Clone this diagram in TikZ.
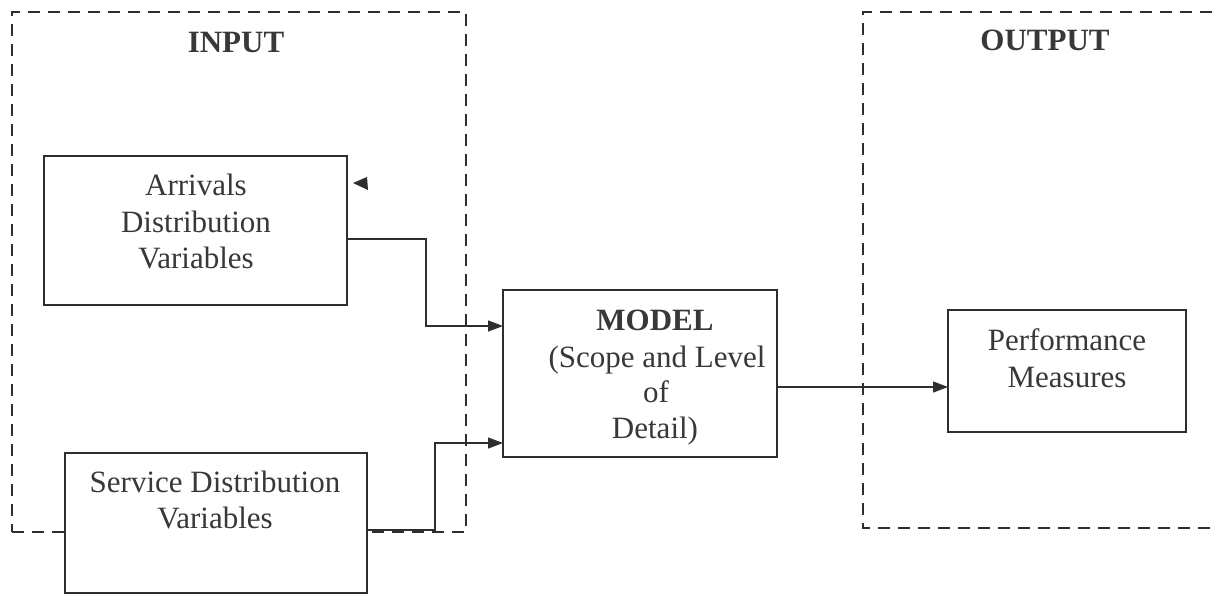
\documentclass[tikz,border=0pt]{standalone}
\usepackage{fontspec}
\setmainfont{Liberation Serif}
\usetikzlibrary{arrows.meta}
\definecolor{inkc}{HTML}{2E2E2E}
\definecolor{txtc}{HTML}{383838}
\begin{document}
\begin{tikzpicture}[x=1pt,y=-1pt,
  box/.style={draw=inkc, fill=white, line width=1.3pt, rectangle, inner sep=0pt, outer sep=0pt},
  grp/.style={draw=inkc, line width=1.3pt, dash pattern=on 12pt off 8pt},
  txt/.style={font=\fontsize{31}{36}\selectfont, text=txtc, anchor=base, inner sep=0pt},
  ttl/.style={font=\fontsize{31}{36}\selectfont\bfseries, text=txtc, anchor=base, inner sep=0pt},
  arr/.style={draw=inkc, line width=1.2pt, -{Triangle[length=15pt,width=11pt]}}]
\useasboundingbox[fill=white] (0,0) rectangle (1212,595);

% groups
\node[grp, minimum width=454pt, minimum height=520pt, inner sep=0pt] (inbox) at (239,272) {};
\coordinate (o1) at (1212,12);
\coordinate (o2) at (863,12);
\coordinate (o3) at (863,528);
\coordinate (o4) at (1212,528);
\draw[grp] (o1) -- (o2) -- (o3) -- (o4);

\node[ttl] (intitle) at (236,52) {INPUT};
\node[ttl] (outtitle) at (1045,50) {OUTPUT};

% connectors (under boxes)
\coordinate (b1) at (426,239);
\coordinate (b2) at (426,326);
\coordinate (c1) at (435,530);
\coordinate (c2) at (435,443);
\coordinate (d1) at (800,387);

% boxes
\node[box, minimum width=303pt, minimum height=149pt] (arrv) at (195.5,230.5) {};
\node[box, minimum width=302pt, minimum height=140pt] (serv) at (216,523) {};
\node[box, minimum width=274pt, minimum height=167pt] (model) at (640,373.5) {};
\node[box, minimum width=238pt, minimum height=122pt] (perf) at (1067,371) {};

% texts
\node[txt] (arrv1) at (196,195) {Arrivals};
\node[txt] (arrv2) at (196,232) {Distribution};
\node[txt] (arrv3) at (196,268) {Variables};
\node[txt] (serv1) at (215,492) {Service Distribution};
\node[txt] (serv2) at (215,528) {Variables};
\node[ttl] (model1) at (655,330) {MODEL};
\node[txt] (model2) at (657,367) {(Scope and Level};
\node[txt] (model3) at (656,402) {of};
\node[txt] (model4) at (655,438) {Detail)};
\node[txt] (perf1) at (1067,350) {Performance};
\node[txt] (perf2) at (1067,387) {Measures};

% small stray triangle
\fill[inkc] (353,183) -- (367,177) -- (368,190) -- cycle;

\draw[arr] (arrv.east |- b1) -- (b1) -- (b2) -- (model.west |- b2);
\draw[arr] (serv.east |- c1) -- (c1) -- (c2) -- (model.west |- c2);
\draw[arr] (model.east |- d1) -- (perf.west |- d1);
\end{tikzpicture}
\end{document}
